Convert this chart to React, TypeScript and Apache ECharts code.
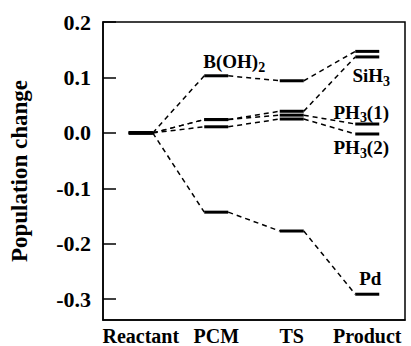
import React, { useEffect, useRef } from "react";
import * as echarts from "echarts";

const categories = ["Reactant", "PCM", "TS", "Product"];
const yTicks = [-0.3, -0.2, -0.1, 0.0, 0.1, 0.2];

const bOH2 = [0, 0.103, 0.094, 0.147];
const siH3 = [0, 0.024, 0.039, 0.137];
const ph3a = [0, 0.024, 0.032, 0.016];
const ph3b = [0, 0.011, 0.025, -0.002];
const pd = [0, -0.143, -0.177, -0.291];

const seriesList = [
  { name: "B(OH)2", label: "{b|B(OH)}{s|2}", values: bOH2, at: 1, dx: 18, dy: -14, align: "center" },
  { name: "SiH3", label: "{b|SiH}{s|3}", values: siH3, at: 3, dx: 4, dy: 19, align: "center" },
  { name: "PH3(1)", label: "{b|PH}{s|3}{b|(1)}", values: ph3a, at: 3, dx: -6, dy: -12, align: "center" },
  { name: "PH3(2)", label: "{b|PH}{s|3}{b|(2)}", values: ph3b, at: 3, dx: -6, dy: 14, align: "center" },
  { name: "Pd", label: "{b|Pd}", values: pd, at: 3, dx: 3, dy: -16, align: "center" },
];

const FONT = "Liberation Serif, serif";
const HALF = 12;

export default function App() {
  const ref = useRef<HTMLDivElement>(null);
  useEffect(() => {
    if (!ref.current) return;
    const chart = echarts.init(ref.current, null, { renderer: "svg" });
    const series = seriesList.map((s) => ({
      type: "custom",
      name: s.name,
      data: s.values.map((v, i) => [i, v, i > 0 ? s.values[i - 1] : v]),
      renderItem: (params: any, api: any) => {
        const i = api.value(0);
        const p = api.coord([i, api.value(1)]);
        const children: any[] = [
          {
            type: "line",
            shape: { x1: p[0] - HALF, y1: p[1], x2: p[0] + HALF, y2: p[1] },
            style: { stroke: "#000", lineWidth: 3 },
          },
        ];
        if (i > 0) {
          const q = api.coord([i - 1, api.value(2)]);
          children.push({
            type: "line",
            shape: { x1: q[0] + HALF, y1: q[1], x2: p[0] - HALF, y2: p[1] },
            style: { stroke: "#000", lineWidth: 1.5, lineDash: [5, 4] },
          });
        }
        if (i === s.at) {
          children.push({
            type: "text",
            x: p[0] + s.dx,
            y: p[1] + s.dy,
            style: {
              text: s.label,
              align: s.align,
              verticalAlign: "middle",
              rich: {
                b: { fontFamily: FONT, fontWeight: "bold", fontSize: 19, fill: "#000" },
                s: { fontFamily: FONT, fontWeight: "bold", fontSize: 14, fill: "#000", padding: [11, 0, 0, 0] },
              },
            },
          });
        }
        return { type: "group", children };
      },
    }));
    chart.setOption({
      animation: false,
      textStyle: { fontFamily: FONT },
      grid: {
        left: 100,
        right: 6,
        top: 22,
        bottom: 23,
        show: true,
        borderColor: "#000",
        borderWidth: 1.5,
      },
      xAxis: {
        type: "category",
        data: categories,
        boundaryGap: true,
        axisLine: { onZero: false, lineStyle: { color: "#000", width: 1.5 } },
        axisTick: { show: false },
        axisLabel: {
          color: "#000",
          fontFamily: FONT,
          fontWeight: "bold",
          fontSize: 20,
          margin: 6,
          interval: 0,
        },
      },
      yAxis: {
        type: "value",
        min: -0.3375,
        max: 0.2,
        splitLine: { show: false },
        axisLine: { show: true, lineStyle: { color: "#000", width: 1.5 } },
        axisTick: {
          show: true,
          inside: true,
          length: 13,
          lineStyle: { color: "#000", width: 1.5 },
          customValues: yTicks,
        },
        axisLabel: {
          color: "#000",
          fontFamily: FONT,
          fontWeight: "bold",
          fontSize: 22,
          margin: 8,
          padding: [0, 4, 0, 0],
          customValues: yTicks,
          formatter: (v: number) => v.toFixed(1),
        },
        name: "Population change",
        nameLocation: "middle",
        nameGap: 72,
        nameTextStyle: {
          color: "#000",
          fontFamily: FONT,
          fontWeight: "bold",
          fontSize: 23,
        },
      },
      series,
    });
    return () => chart.dispose();
  }, []);
  return (
    <div
      ref={ref}
      style={{ position: "absolute", left: 0, top: 0, width: 411, height: 346, background: "#fff" }}
    />
  );
}
